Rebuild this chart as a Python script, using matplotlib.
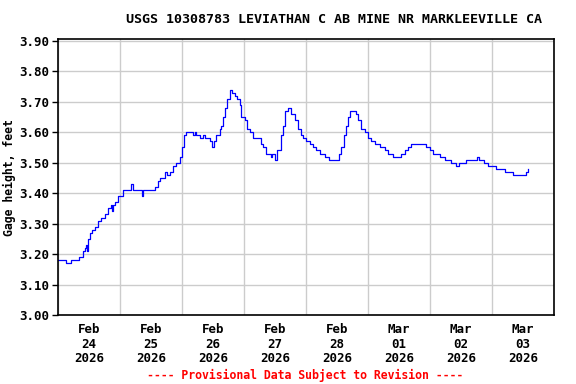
import matplotlib
matplotlib.use("Agg")
import matplotlib.pyplot as plt

# hours since Feb 24 2026 00:00, gage height (ft)
hours = [0, 3.2, 5.2, 8.0, 9.0, 9.7, 10.3, 11.0, 11.2, 11.6, 12.3, 13.2, 14.2, 15.5,
         16.8, 18.1, 19.4, 20.6, 20.9, 21.3, 21.9, 23.2, 25.2, 28.1, 28.9, 29.2,
         32.3, 32.6, 32.9, 37.4, 38.7, 39.4, 41.3, 42.3, 43.2, 44.5, 45.8, 47.1,
         48.0, 48.8, 49.7, 52.3, 52.9, 53.5, 54.8, 56.1, 56.8, 58.7, 59.6, 60.4,
         61.3, 62.6, 63.2, 63.9, 64.8, 65.5, 66.5, 67.4, 68.4, 69.4, 70.3, 71.0,
         72.3, 73.3, 74.2, 75.5, 78.5, 79.4, 80.6, 82.3, 82.8, 83.9, 84.9, 85.8,
         86.5, 87.1, 88.0, 89.0, 90.3, 91.6, 92.9, 94.2, 94.8, 96.1, 97.4, 98.7,
         100.0, 101.3, 103.2, 104.9, 108.8, 109.7, 110.6, 111.6, 112.3, 112.9,
         115.2, 116.1, 117.4, 118.7, 120.0, 121.3, 122.6, 124.5, 126.5, 127.7,
         129.7, 132.9, 134.2, 135.5, 136.8, 142.3, 143.9, 145.2, 147.7, 149.7,
         152.3, 154.2, 155.2, 158.1, 162.3, 162.8, 164.8, 166.5, 169.7, 172.9,
         176.1, 181.3, 182.1]
gage = [3.18, 3.17, 3.18, 3.19, 3.19, 3.21, 3.22, 3.23, 3.21, 3.25, 3.27, 3.28, 3.29, 3.31,
        3.32, 3.33, 3.35, 3.36, 3.34, 3.36, 3.37, 3.39, 3.41, 3.43, 3.42, 3.41,
        3.41, 3.39, 3.41, 3.42, 3.44, 3.45, 3.47, 3.46, 3.47, 3.49, 3.50, 3.52,
        3.55, 3.59, 3.60, 3.59, 3.60, 3.59, 3.58, 3.59, 3.58, 3.57, 3.55, 3.57,
        3.59, 3.61, 3.62, 3.65, 3.68, 3.71, 3.74, 3.73, 3.72, 3.71, 3.69, 3.65,
        3.64, 3.61, 3.60, 3.58, 3.56, 3.55, 3.53, 3.52, 3.53, 3.51, 3.54, 3.54,
        3.59, 3.62, 3.67, 3.68, 3.66, 3.64, 3.61, 3.59, 3.58, 3.57, 3.56, 3.55,
        3.54, 3.53, 3.52, 3.51, 3.53, 3.55, 3.59, 3.62, 3.65, 3.67,
        3.66, 3.64, 3.61, 3.60, 3.58, 3.57, 3.56, 3.55, 3.54, 3.53,
        3.52, 3.53, 3.54, 3.55, 3.56, 3.55, 3.54, 3.53, 3.52, 3.51,
        3.50, 3.49, 3.50, 3.51, 3.52, 3.51, 3.50, 3.49, 3.48, 3.47,
        3.46, 3.47, 3.48]

day_labels = ["Feb\n24\n2026", "Feb\n25\n2026", "Feb\n26\n2026", "Feb\n27\n2026",
              "Feb\n28\n2026", "Mar\n01\n2026", "Mar\n02\n2026", "Mar\n03\n2026"]
y_ticks = [3.00, 3.10, 3.20, 3.30, 3.40, 3.50, 3.60, 3.70, 3.80, 3.90]

mono = "DejaVu Sans Mono"

fig = plt.figure(figsize=(5.76, 3.84), dpi=100)
ax = fig.add_axes([0.1007, 0.1797, 0.8611, 0.718])

ax.plot(hours, gage, color="#0000ff", linewidth=0.9, drawstyle="steps-post")

ax.set_xlim(0, 192)
ax.set_ylim(3.0, 3.905)

ax.set_xticks([i * 24 for i in range(9)], minor=True)
ax.set_xticks([12 + 24 * i for i in range(len(day_labels))])
ax.set_xticklabels(day_labels, family=mono, weight="bold", fontsize=9, linespacing=1.15)
ax.set_yticks(y_ticks)
ax.set_yticklabels(["%.2f" % v for v in y_ticks], family=mono, weight="bold", fontsize=9)

ax.grid(True, which="minor", axis="x", color="#cccccc", linewidth=1)
ax.grid(True, which="major", axis="y", color="#cccccc", linewidth=1)
ax.set_axisbelow(True)
ax.tick_params(axis="x", which="both", length=0, pad=6)
ax.tick_params(axis="y", length=4, width=1, pad=2)
for s in ax.spines.values():
    s.set_linewidth(1.2)

ax.set_ylabel("Gage height, feet", family=mono, weight="bold", fontsize=8.3, labelpad=3)
fig.text(0.58, 0.95, "USGS 10308783 LEVIATHAN C AB MINE NR MARKLEEVILLE CA",
         ha="center", va="center", family=mono, weight="bold", fontsize=9.6)
fig.text(0.53, 0.022, "---- Provisional Data Subject to Revision ----",
         ha="center", va="center", family=mono, weight="bold", fontsize=8.3, color="red")

plt.savefig("out.png", dpi=100, facecolor="w")
